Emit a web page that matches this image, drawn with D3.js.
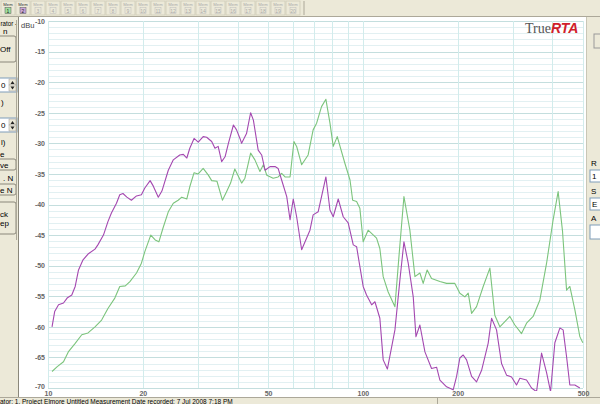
<!DOCTYPE html>
<html><head><meta charset="utf-8">
<script src="https://cdn.jsdelivr.net/npm/d3@7"></script>
<style>
html,body{margin:0;padding:0;background:#ECE9D8;}
svg{display:block;font-family:"Liberation Sans",Arial,sans-serif;}
</style></head>
<body>
<svg id="c" width="600" height="404"></svg>
<script>
// ---- data ----
const purpleFreq = [10.3,10.5,10.8,11.2,11.5,11.9,12.2,12.5,12.9,13.4,14.1,14.4,15.0,15.5,15.9,16.5,16.9,17.3,17.8,18.4,19.1,19.8,20.3,21.1,21.6,22.4,23.0,24.1,25.0,26.2,26.9,27.6,28.2,29.1,30.0,31.1,31.9,33.1,33.9,34.7,35.6,36.5,37.4,38.8,39.7,40.7,41.2,42.7,44.0,44.9,46.5,47.7,48.9,50.7,52.6,53.8,55.2,57.3,58.7,60.1,61.6,63.9,67.9,69.5,72.1,76.3,78.6,80.5,83.5,86.6,89.8,93.2,95.5,100.2,102.7,106.6,109.2,113.2,116.0,119.6,126.4,131.1,135.0,139.3,144.5,147.4,151.7,157.4,165.2,171.4,175.6,184.4,193.5,198.4,203.2,208.2,213.4,221.4,229.6,238.2,249.9,256.2,265.7,275.6,285.9,296.5,307.5,315.1,330.9,343.2,356.0,369.3,383.1,394.4,407.0,422.1,432.4,443.4,454.1,471.0,488.6];
const purpleDb = [-60.0,-57.5,-56.4,-56.1,-55.3,-54.8,-53.4,-50.7,-49.1,-48.1,-47.3,-46.6,-45.0,-42.8,-41.4,-39.8,-38.4,-38.2,-38.8,-39.3,-38.6,-38.4,-37.3,-36.1,-37.0,-38.8,-37.8,-34.4,-32.7,-31.9,-31.8,-32.4,-30.8,-29.2,-29.8,-28.9,-29.0,-29.7,-30.8,-30.5,-33.0,-32.2,-30.0,-27.0,-27.8,-29.2,-30.0,-28.4,-25.0,-26.2,-31.1,-31.9,-34.4,-33.8,-33.8,-34.1,-36.0,-38.7,-42.5,-39.1,-42.0,-47.4,-44.2,-41.7,-41.2,-35.5,-40.9,-42.0,-39.1,-42.0,-43.0,-46.6,-46.9,-53.4,-54.8,-56.4,-55.9,-58.6,-65.4,-66.9,-60.5,-52.3,-46.1,-49.6,-55.1,-61.6,-59.7,-64.1,-66.8,-66.6,-68.7,-69.8,-70.3,-68.1,-65.1,-64.6,-65.4,-68.1,-69.0,-67.1,-62.7,-58.6,-60.5,-66.0,-67.9,-68.2,-69.5,-68.4,-68.7,-70.0,-70.6,-64.3,-67.5,-70.6,-62.6,-60.2,-60.5,-64.9,-69.5,-69.5,-70.0];
const greenFreq = [10.3,10.7,11.2,11.6,12.2,12.8,13.4,14.1,14.8,15.5,16.3,16.9,17.6,18.2,19.1,19.8,20.3,21.2,21.9,22.5,23.2,24.1,25.0,25.9,26.6,27.6,28.2,29.1,30.0,31.1,32.3,33.1,34.4,35.8,36.9,38.0,39.2,41.2,42.2,44.0,45.4,47.1,48.3,49.5,51.9,53.8,55.2,56.6,58.7,60.4,61.6,63.9,67.0,69.5,71.3,73.9,76.3,78.6,80.5,82.9,87.7,91.0,92.8,95.5,97.8,100.2,103.9,110.5,113.2,116.0,120.3,126.4,130.4,135.0,141.0,146.3,151.7,155.4,160.0,165.2,175.6,184.4,195.9,203.2,210.8,216.0,221.4,229.6,241.0,253.1,262.4,272.2,292.9,303.8,319.0,330.9,347.2,364.8,383.1,401.9,416.9,430.5,443.4,454.1,471.0,488.6,499.3];
const greenDb = [-67.3,-66.5,-65.7,-64.1,-62.7,-61.3,-61.0,-60.0,-58.9,-57.0,-55.3,-53.4,-53.3,-52.6,-51.2,-49.6,-47.7,-45.0,-45.8,-46.1,-43.8,-41.2,-39.8,-39.3,-38.8,-39.1,-37.1,-34.8,-35.0,-34.1,-35.2,-36.1,-36.2,-39.3,-37.9,-36.5,-34.2,-36.5,-35.7,-31.6,-32.7,-34.6,-33.5,-35.2,-35.7,-35.5,-34.9,-35.5,-35.5,-29.7,-30.5,-33.5,-31.9,-27.8,-26.7,-24.0,-22.8,-26.7,-30.5,-28.9,-33.3,-36.0,-39.3,-39.5,-40.6,-46.1,-44.2,-45.5,-47.2,-51.8,-54.3,-56.7,-48.0,-38.7,-44.2,-51.8,-51.2,-52.9,-50.7,-52.1,-52.6,-52.9,-52.9,-54.5,-55.1,-54.5,-57.8,-56.7,-53.4,-50.4,-58.1,-60.0,-58.3,-59.7,-61.1,-59.4,-58.3,-55.6,-49.6,-42.5,-37.9,-44.4,-54.0,-53.4,-57.2,-61.6,-62.6];
const yTicks = [-10,-15,-20,-25,-30,-35,-40,-45,-50,-55,-60,-65,-70];
const xTicks = [10,20,50,100,200,500];
const xGrid = [10,20,30,40,50,60,70,80,90,100,200,300,400,500];
const memLabels = ["1","2","3","4","5","6","7","8","9","10","11","12","13","14","15","16","17","18","19","20"];

const svg = d3.select("#c");
const x = d3.scaleLog().domain([10,500]).range([48,583]);
const y = d3.scaleLinear().domain([-70,-10]).range([388,21]);

// toolbar
svg.append("rect").attr("x",0).attr("y",0).attr("width",600).attr("height",17).attr("fill","#ECE9D8");
const tb = svg.append("g");
memLabels.forEach((m,i)=>{
  const bx = 1 + i*15;
  const g = tb.append("g").attr("transform",`translate(${bx},1)`);
  g.append("rect").attr("width",14).attr("height",14).attr("fill","#ECE9D8").attr("stroke","#cfcbb8").attr("stroke-width",0.8);
  const active = i<2;
  g.append("text").attr("x",7).attr("y",5).attr("text-anchor","middle").attr("font-size",4.2)
    .attr("fill",active?"#333":"#aaa").text("Mem");
  g.append("rect").attr("x",4).attr("y",6.5).attr("width",6).attr("height",6)
    .attr("fill", i===0?"#9ee09e": i===1?"#c9a6d8":"none").attr("stroke",active?"#555":"#bbb").attr("stroke-width",0.5);
  g.append("text").attr("x",7).attr("y",11.6).attr("text-anchor","middle").attr("font-size",5)
    .attr("fill",active?"#222":"#aaa").text(m);
});
svg.append("line").attr("x1",304).attr("x2",304).attr("y1",1).attr("y2",15).attr("stroke","#aca899");
svg.append("line").attr("x1",0).attr("x2",600).attr("y1",16.5).attr("y2",16.5).attr("stroke","#aca899");

// white chart area
svg.append("rect").attr("x",19).attr("y",17).attr("width",567).attr("height",380).attr("fill","#ffffff");
svg.append("line").attr("x1",18.5).attr("x2",18.5).attr("y1",17).attr("y2",397).attr("stroke","#8a877a");
svg.append("line").attr("x1",586.5).attr("x2",586.5).attr("y1",17).attr("y2",397).attr("stroke","#c9c6b6");

// grid
const grid = svg.append("g");
d3.range(-70,-9,1).forEach(v=>{
  const major = v%5===0;
  grid.append("line").attr("x1",48).attr("x2",583).attr("y1",Math.round(y(v))+0.5).attr("y2",Math.round(y(v))+0.5)
    .attr("stroke", major?"#c4dede":"#e2f0f2").attr("stroke-width",1);
});
xGrid.forEach(f=>{
  grid.append("line").attr("x1",Math.round(x(f))+0.5).attr("x2",Math.round(x(f))+0.5).attr("y1",21).attr("y2",388)
    .attr("stroke","#d2ecec").attr("stroke-width",1);
});

// axes
const yAxis = svg.append("g").attr("transform","translate(45,0)")
  .call(d3.axisLeft(y).tickValues(yTicks).tickSize(0).tickPadding(0).tickFormat(d=>d));
yAxis.select(".domain").remove();
yAxis.selectAll("text").attr("font-size",7).attr("font-weight","bold").attr("fill","#666").attr("font-family","Liberation Sans, Arial, sans-serif");
yAxis.selectAll(".tick").filter(d=>d===-70).select("text").attr("dy","0.1em");
const xAxis = svg.append("g").attr("transform","translate(0,390)")
  .call(d3.axisBottom(x).tickValues(xTicks).tickSize(0).tickPadding(1).tickFormat(d=>d));
xAxis.select(".domain").remove();
xAxis.selectAll("text").attr("font-size",7).attr("font-weight","bold").attr("fill","#666").attr("font-family","Liberation Sans, Arial, sans-serif");

svg.append("text").attr("x",21).attr("y",28).attr("font-size",7.5).attr("fill","#444").text("dBu");

// logo
const logo = svg.append("text").attr("x",525).attr("y",33);
logo.append("tspan").attr("font-family","Liberation Serif, serif").attr("font-size",14).attr("fill","#555").text("True");
logo.append("tspan").attr("font-family","Liberation Sans, Arial, sans-serif").attr("font-size",14).attr("font-weight","bold").attr("font-style","italic").attr("fill","#d0202a").text("RTA");

// curves
svg.append("clipPath").attr("id","pc").append("rect").attr("x",48).attr("y",20).attr("width",536).attr("height",371);
const line = d3.line().x(d=>x(d[0])).y(d=>y(d[1]));
const series = [
  {f:greenFreq, v:greenDb, c:"#7cc47c"},
  {f:purpleFreq, v:purpleDb, c:"#a448b0"}
];
series.forEach(s=>{
  svg.append("path").attr("clip-path","url(#pc)")
    .datum(s.f.map((f,i)=>[f,s.v[i]]))
    .attr("d",line).attr("fill","none").attr("stroke",s.c).attr("stroke-width",1.1).attr("stroke-linejoin","round");
});

// left panel
const lp = svg.append("g").attr("font-size",8).attr("fill","#000");
lp.append("text").attr("x",0.5).attr("y",26).attr("font-size",6.5).attr("textLength",16.5).attr("lengthAdjust","spacingAndGlyphs").text("rator -");
lp.append("text").attr("x",3).attr("y",34).text("n");
function btn(yy,h,lines){
  lp.append("rect").attr("x",-4).attr("y",yy).attr("width",20).attr("height",h).attr("fill","#ECE9D8").attr("stroke","#8a877a").attr("rx",2);
  lines.forEach((t,i)=>lp.append("text").attr("x",0).attr("y",yy+h/2+3+(i-(lines.length-1)/2)*9).text(t));
}
btn(36,26,["Off"]);
function spin(yy){
  lp.append("rect").attr("x",-2).attr("y",yy).attr("width",19).attr("height",14).attr("fill","#fff").attr("stroke","#7f9db9");
  lp.append("text").attr("x",1).attr("y",yy+10).text("0");
  lp.append("rect").attr("x",9).attr("y",yy+1).attr("width",7).attr("height",6).attr("fill","#ECE9D8").attr("stroke","#999").attr("stroke-width",0.5);
  lp.append("rect").attr("x",9).attr("y",yy+7).attr("width",7).attr("height",6).attr("fill","#ECE9D8").attr("stroke","#999").attr("stroke-width",0.5);
  lp.append("path").attr("d",`M10.5,${yy+6}L12.5,${yy+3}L14.5,${yy+6}Z`).attr("fill","#222");
  lp.append("path").attr("d",`M10.5,${yy+8.5}L12.5,${yy+11.5}L14.5,${yy+8.5}Z`).attr("fill","#222");
}
spin(78); lp.append("text").attr("x",1).attr("y",105).text(")");
spin(118); lp.append("text").attr("x",1).attr("y",145).text("l)");
lp.append("text").attr("x",0).attr("y",157).text("e");
btn(159,11,["ve"]);
lp.append("text").attr("x",3).attr("y",181).text(". N");
btn(184,11,["e N"]);
btn(202,32,["ck","ep"]);
svg.append("line").attr("x1",16.5).attr("x2",16.5).attr("y1",20).attr("y2",240).attr("stroke","#aca899");

// right panel
const rp = svg.append("g").attr("font-size",8).attr("fill","#000");
rp.append("rect").attr("x",594).attr("y",34).attr("width",8).attr("height",14).attr("fill","#ECE9D8").attr("stroke","#999");
rp.append("text").attr("x",591).attr("y",166).text("R");
rp.append("rect").attr("x",590).attr("y",170).attr("width",14).attr("height",12).attr("fill","#fff").attr("stroke","#7f9db9");
rp.append("text").attr("x",592).attr("y",179).text("1");
rp.append("text").attr("x",591).attr("y",194).text("S");
rp.append("rect").attr("x",590).attr("y",198).attr("width",14).attr("height",12).attr("fill","#fff").attr("stroke","#7f9db9");
rp.append("text").attr("x",592).attr("y",207).text("E");
rp.append("text").attr("x",591).attr("y",221).text("A");
rp.append("rect").attr("x",590).attr("y",225).attr("width",14).attr("height",14).attr("fill","#fff").attr("stroke","#7f9db9");

// status bar
svg.append("line").attr("x1",0).attr("x2",600).attr("y1",397.5).attr("y2",397.5).attr("stroke","#aca899");
svg.append("line").attr("x1",437.5).attr("x2",437.5).attr("y1",398).attr("y2",404).attr("stroke","#aca899");
svg.append("text").attr("x",0).attr("y",404).attr("font-size",6.5).attr("fill","#000")
  .text("ator:   1. Project Elmore     Untitled Measurement       Date recorded: 7 Jul 2008  7:18 PM");
</script>
</body></html>
